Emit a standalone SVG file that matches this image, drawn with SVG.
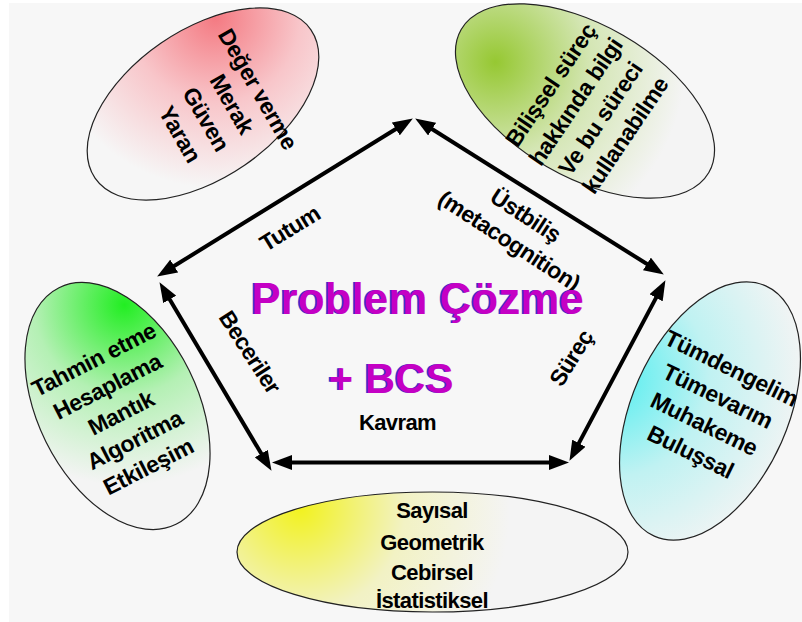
<svg xmlns="http://www.w3.org/2000/svg" width="802" height="622" viewBox="0 0 802 622">
<style>
  .t { font-family: "Liberation Sans", Arial, sans-serif; font-weight: bold; fill: #000; text-anchor: middle; }
  .et { font-size: 23px; letter-spacing: -0.4px; }
  .lb { font-size: 23px; letter-spacing: -0.6px; }
  .oval { stroke: #222; stroke-width: 1.2; }
  .edge { fill: none; stroke: #000; stroke-width: 4; marker-start: url(#ah); marker-end: url(#ah); }
  .mg { font-family: "Liberation Sans", Arial, sans-serif; font-weight: bold; text-anchor: middle; }
</style>
<defs>
  <marker id="ah" markerUnits="userSpaceOnUse" markerWidth="20" markerHeight="15" refX="11" refY="7.5" orient="auto-start-reverse" viewBox="0 0 20 15">
    <path d="M0,0 L20,7.5 L0,15 z" fill="#000"/>
  </marker>
  <radialGradient id="gRed" gradientUnits="userSpaceOnUse" cx="262" cy="40" r="170">
    <stop offset="0" stop-color="#f47a82"/>
    <stop offset="0.5" stop-color="#f8c6ca"/>
    <stop offset="1" stop-color="#f6f6f6"/>
  </radialGradient>
  <radialGradient id="gOlive" gradientUnits="userSpaceOnUse" cx="488" cy="112" r="190">
    <stop offset="0" stop-color="#96c832"/>
    <stop offset="0.5" stop-color="#d4e6b4"/>
    <stop offset="1" stop-color="#f4f4f4"/>
  </radialGradient>
  <radialGradient id="gGreen" gradientUnits="userSpaceOnUse" cx="30" cy="355" r="180">
    <stop offset="0" stop-color="#22ee22"/>
    <stop offset="0.5" stop-color="#b4f0b4"/>
    <stop offset="1" stop-color="#f4f4f4"/>
  </radialGradient>
  <radialGradient id="gCyan" gradientUnits="userSpaceOnUse" cx="700" cy="305" r="200">
    <stop offset="0" stop-color="#50eef0"/>
    <stop offset="0.5" stop-color="#c0f2f2"/>
    <stop offset="1" stop-color="#f4f4f4"/>
  </radialGradient>
  <radialGradient id="gYellow" gradientUnits="userSpaceOnUse" cx="300" cy="508" r="210">
    <stop offset="0" stop-color="#f2f21e"/>
    <stop offset="0.5" stop-color="#f2f2c4"/>
    <stop offset="1" stop-color="#f4f4f4"/>
  </radialGradient>
</defs>

<rect x="9" y="3" width="793" height="619" fill="#f7f7f7"/>

<g id="node-tutum-oval">
  <ellipse class="oval" cx="203" cy="104" rx="131" ry="74" transform="rotate(-34.5 203 104)" fill="url(#gRed)"/>
  <g transform="translate(219 111.5) rotate(60)">
    <text class="t et" x="0" y="-37">Değer verme</text>
    <text class="t et" x="0" y="-7">Merak</text>
    <text class="t et" x="0" y="23">Güven</text>
    <text class="t et" x="0" y="53">Yaran</text>
  </g>
</g>

<g id="node-ustbilis-oval">
  <ellipse class="oval" cx="585" cy="101" rx="143" ry="76" transform="rotate(30 585 101)" fill="url(#gOlive)"/>
  <g transform="translate(588 110) rotate(-56)">
    <text class="t et" x="0" y="-37">Bilişsel süreç</text>
    <text class="t et" x="0" y="-7">hakkında bilgi</text>
    <text class="t et" x="0" y="23">Ve bu süreci</text>
    <text class="t et" x="0" y="53">kullanabilme</text>
  </g>
</g>

<g id="node-beceriler-oval">
  <ellipse class="oval" cx="117.5" cy="406" rx="132" ry="80" transform="rotate(63.7 117.5 406)" fill="url(#gGreen)"/>
  <g transform="translate(121 413) rotate(-27)">
    <text class="t et" x="0" y="-52">Tahmin etme</text>
    <text class="t et" x="0" y="-22">Hesaplama</text>
    <text class="t et" x="0" y="8">Mantık</text>
    <text class="t et" x="0" y="38">Algoritma</text>
    <text class="t et" x="0" y="68">Etkileşim</text>
  </g>
</g>

<g id="node-surec-oval">
  <ellipse class="oval" cx="710" cy="411" rx="137" ry="78" transform="rotate(-66 710 411)" fill="url(#gCyan)"/>
  <g transform="translate(711 410) rotate(26)">
    <text class="t et" x="0" y="-38.5">Tümdengelim</text>
    <text class="t et" x="0" y="-7.5">Tümevarım</text>
    <text class="t et" x="0" y="23.5">Muhakeme</text>
    <text class="t et" x="0" y="54.5">Buluşsal</text>
  </g>
</g>

<g id="node-kavram-oval">
  <ellipse class="oval" cx="432.5" cy="552" rx="195.5" ry="60" fill="url(#gYellow)"/>
  <text class="t" style="font-size:22px;letter-spacing:-0.6px" x="432" y="518">Sayısal</text>
  <text class="t" style="font-size:22px;letter-spacing:-0.6px" x="432" y="550">Geometrik</text>
  <text class="t" style="font-size:22px;letter-spacing:-0.6px" x="432" y="580">Cebirsel</text>
  <text class="t" style="font-size:22px;letter-spacing:-0.6px" x="432" y="608">İstatistiksel</text>
</g>

<g id="connectors">
  <path class="edge" d="M164.8,271.8 L405.2,123.2"/>
  <path class="edge" d="M422.8,123.3 L656.2,269.8"/>
  <path class="edge" d="M164.1,289.9 L266.9,463.1"/>
  <path class="edge" d="M661.2,288.1 L573.7,452.9"/>
  <path class="edge" d="M281,462.5 L560,462.5"/>
  <text class="t lb" transform="translate(294 235) rotate(-31.5)">Tutum</text>
  <g transform="translate(517.5 228) rotate(33)">
    <text class="t lb" x="0" y="-7">Üstbiliş</text>
    <text class="t lb" x="0" y="23">(metacognition)</text>
  </g>
  <text class="t lb" transform="translate(250 352) rotate(57) translate(0 8)">Beceriler</text>
  <text class="t lb" transform="translate(571 358) rotate(-58) translate(0 8)">Süreç</text>
</g>

<g id="node-center">
  <text class="mg" x="416" y="313.5" font-size="44" fill="#3a3ac8">Problem Çözme</text>
  <text class="mg" x="417.5" y="314" font-size="44" fill="#c400c4">Problem Çözme</text>
  <text class="mg" x="389.5" y="392.5" font-size="42" fill="#3a3ac8">+ BCS</text>
  <text class="mg" x="391" y="393" font-size="42" fill="#c400c4">+ BCS</text>
  <text class="t" x="397.5" y="430" style="font-size:22px;letter-spacing:-0.6px">Kavram</text>
</g>
</svg>
